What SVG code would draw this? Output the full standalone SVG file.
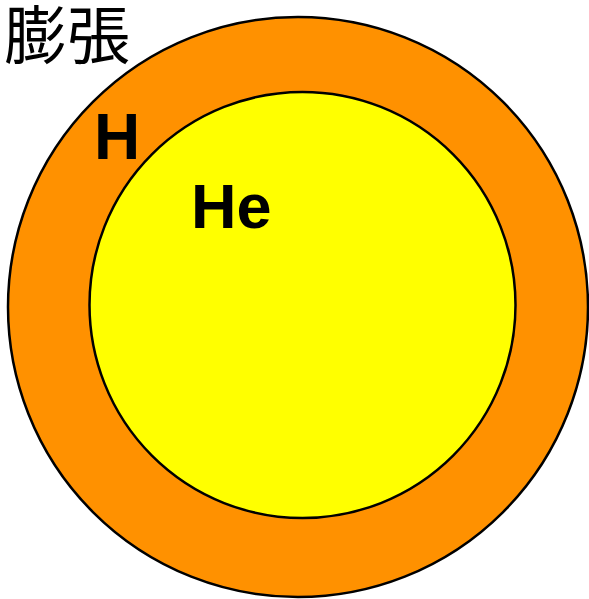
<svg xmlns="http://www.w3.org/2000/svg" width="589" height="599" viewBox="0 0 589 599">
<style>
.c{stroke:#000;stroke-width:2.5}
.t{font-family:"Liberation Sans",Arial,sans-serif;font-weight:bold;fill:#000}
.j{font-family:"Noto Sans CJK JP","Noto Sans CJK SC",sans-serif;fill:#000}
</style>
<rect width="589" height="599" fill="#fff"/>
<g id="outer"><circle class="c" cx="298" cy="307" r="290" fill="#FF9100"/></g>
<g id="inner"><circle class="c" cx="302.5" cy="305" r="213" fill="#FFFF00"/></g>
<g id="labels">
<text class="j" x="4" y="58" font-size="63">膨張</text>
<text class="t" x="94" y="159" font-size="64">H</text>
<text class="t" x="191" y="228" font-size="63">He</text>
</g>
</svg>
